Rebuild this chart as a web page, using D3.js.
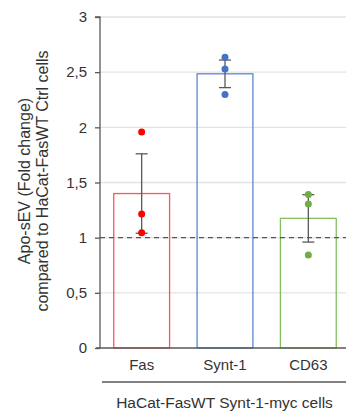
<!DOCTYPE html>
<html><head><meta charset="utf-8">
<script src="https://cdn.jsdelivr.net/npm/d3@7"></script>
<style>body{margin:0;background:#fff;}svg{display:block;font-family:"Liberation Sans",Arial,sans-serif;}</style>
</head><body>
<script>
const categories = ["Fas", "Synt-1", "CD63"];
const means = [1.40, 2.485, 1.175];
const sds = [0.36, 0.125, 0.215];
const points = [[1.958, 1.215, 1.045], [2.635, 2.529, 2.297], [1.391, 1.305, 0.843]];
const colors = ["#ff0000", "#4472c4", "#70ad47"];
const strokeColors = ["#ff5555", "#5b86d6", "#86bd62"];
const yTicks = [0, 0.5, 1, 1.5, 2, 2.5, 3];
const yTickLabels = ["0", "0,5", "1", "1,5", "2", "2,5", "3"];
const refLine = 1;
const groupLabel = "HaCat-FasWT Synt-1-myc cells";
const yTitle = ["Apo-sEV (Fold change)", "compared to HaCat-FasWT Ctrl cells"];

const W = 346, H = 417;
const FS = 15;
const svg = d3.select("body").append("svg").attr("width", W).attr("height", H);
const y = d3.scaleLinear().domain([0, 3]).range([348, 17]);
const x = d3.scaleBand().domain(categories).range([100, 350]).paddingInner(0.33).paddingOuter(0.165);

// gridlines
svg.append("g").selectAll("line").data(yTicks.filter(d => d > 0)).join("line")
  .attr("x1", 100).attr("x2", W).attr("y1", d => y(d)).attr("y2", d => y(d))
  .attr("stroke", "#e3e3e3").attr("stroke-width", 1.3);

// bars
svg.append("g").selectAll("rect").data(categories).join("rect")
  .attr("x", d => x(d)).attr("width", x.bandwidth())
  .attr("y", (d, i) => y(means[i])).attr("height", (d, i) => y(0) - y(means[i]))
  .attr("fill", "none").attr("stroke", (d, i) => strokeColors[i]).attr("stroke-width", 1.3);

// reference dashed line
svg.append("line").attr("x1", 100).attr("x2", W).attr("y1", y(refLine)).attr("y2", y(refLine))
  .attr("stroke", "#555").attr("stroke-width", 1.3).attr("stroke-dasharray", "5,4");

// error bars
const eb = svg.append("g").attr("stroke", "#595959").attr("stroke-width", 1.3);
categories.forEach((c, i) => {
  const cx = x(c) + x.bandwidth() / 2;
  eb.append("line").attr("x1", cx).attr("x2", cx).attr("y1", y(means[i] + sds[i])).attr("y2", y(means[i] - sds[i]));
  [means[i] + sds[i], means[i] - sds[i]].forEach(v => {
    eb.append("line").attr("x1", cx - 6).attr("x2", cx + 6).attr("y1", y(v)).attr("y2", y(v));
  });
});

// points
categories.forEach((c, i) => {
  const cx = x(c) + x.bandwidth() / 2;
  svg.append("g").selectAll("circle").data(points[i]).join("circle")
    .attr("cx", cx).attr("cy", d => y(d)).attr("r", 3.5).attr("fill", colors[i]);
});

// y axis
const yAxis = d3.axisLeft(y).tickValues(yTicks).tickFormat((d, i) => yTickLabels[i]).tickSize(5).tickPadding(8);
const ya = svg.append("g").attr("transform", "translate(100,0)").call(yAxis);
ya.select(".domain").attr("stroke", "#595959").attr("stroke-width", 1.3).attr("d", `M-5,${y(3)}H0V${y(0)}`);
ya.selectAll(".tick line").attr("stroke", "#595959").attr("stroke-width", 1.3);
ya.selectAll(".tick text").attr("font-size", FS).attr("fill", "#333").style("font-family", "Liberation Sans, Arial, sans-serif");

// x baseline
svg.append("line").attr("x1", 96).attr("x2", W).attr("y1", y(0)).attr("y2", y(0)).attr("stroke", "#595959").attr("stroke-width", 1.3);

// x labels
const xAxis = d3.axisBottom(x).tickSize(0).tickPadding(11);
const xa = svg.append("g").attr("transform", `translate(0,${y(0)})`).call(xAxis);
xa.select(".domain").remove();
xa.selectAll(".tick text").attr("font-size", FS).attr("fill", "#333").style("font-family", "Liberation Sans, Arial, sans-serif");

// group bracket
svg.append("line").attr("x1", 102).attr("x2", W).attr("y1", 382).attr("y2", 382).attr("stroke", "#595959").attr("stroke-width", 1.3);
svg.append("text").attr("x", 224.5).attr("y", 407.5).attr("text-anchor", "middle")
  .attr("font-size", 15.5).attr("fill", "#333").text(groupLabel);

// y title
const yt = svg.append("text").attr("transform", "translate(0,181) rotate(-90)").attr("text-anchor", "middle")
  .attr("font-size", 16).attr("fill", "#333");
yt.append("tspan").attr("x", 0).attr("y", 30).text(yTitle[0]);
yt.append("tspan").attr("x", 0).attr("y", 48).text(yTitle[1]);
</script>
</body></html>
